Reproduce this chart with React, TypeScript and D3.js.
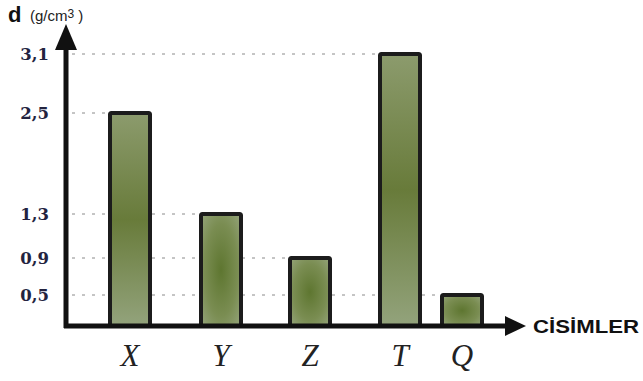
import React from "react";
import * as d3 from "d3";

const categories = ["X", "Y", "Z", "T", "Q"];
const values = [2.5, 1.3, 0.9, 3.1, 0.5];
const tickValues = [0.5, 0.9, 1.3, 2.5, 3.1];
const tickLabels = ["0,5", "0,9", "1,3", "2,5", "3,1"];

const W = 643;
const H = 381;
const x0 = 66;
const y0 = 326;

export default function App() {
  // schematic (non-uniform) axes, piecewise linear
  const y = d3.scaleLinear().domain([0, 0.5, 0.9, 1.3, 2.5, 3.1]).range([y0, 295, 258, 214, 113, 54]);
  const x = d3.scaleLinear().domain([0, 1, 2, 3, 4]).range([130, 221, 310, 400, 462]);
  const barW = 40;
  const inkTick = "#23233f";

  return (
    <svg width={W} height={H} style={{ position: "absolute", left: 0, top: 0, background: "#fff" }}>
      <defs>
        <radialGradient id="barGrad" cx="0.5" cy="0.5" r="0.75" fx="0.5" fy="0.5">
          <stop offset="0%" stopColor="#5e7630" />
          <stop offset="55%" stopColor="#7a8d52" />
          <stop offset="100%" stopColor="#9aa983" />
        </radialGradient>
        <linearGradient id="barGradTall" x1="0" y1="0" x2="0" y2="1">
          <stop offset="0%" stopColor="#8c9b6d" />
          <stop offset="50%" stopColor="#687b3a" />
          <stop offset="100%" stopColor="#93a37c" />
        </linearGradient>
      </defs>
      {/* grid lines */}
      {values.map((v, i) => (
        <line
          key={"g" + i}
          x1={x0 + 6}
          x2={x(i) - barW / 2}
          y1={y(v)}
          y2={y(v)}
          stroke="#8a8a8a"
          strokeWidth={1}
          strokeDasharray="3,7"
        />
      ))}
      {/* bars */}
      {values.map((v, i) => (
        <rect
          key={"b" + i}
          x={x(i) - barW / 2}
          y={y(v)}
          width={barW}
          height={y0 - y(v)}
          rx={1.5}
          fill={v >= 2 ? "url(#barGradTall)" : "url(#barGrad)"}
          stroke="#1c1c1c"
          strokeWidth={4}
        />
      ))}
      {/* y axis */}
      <line x1={x0} x2={x0} y1={y0 + 2} y2={48} stroke="#111" strokeWidth={5} />
      <path d={`M${x0 - 11},${50} L${x0},${24} L${x0 + 11},${50} Z`} fill="#111" />
      {/* x axis */}
      <line x1={x0 - 2} x2={508} y1={y0} y2={y0} stroke="#111" strokeWidth={5} />
      <path d={`M${505},${y0 - 10} L${526},${y0} L${505},${y0 + 10} Z`} fill="#111" />
      {/* tick labels */}
      {tickValues.map((t, i) => (
        <text
          key={"t" + i}
          x={49}
          y={y(t)}
          dy="0.36em"
          textAnchor="end"
          fontFamily="DejaVu Serif"
          fontWeight="bold"
          fontSize={16.5}
          fill={inkTick}
        >
          {tickLabels[i]}
        </text>
      ))}
      {/* category labels */}
      {categories.map((c, i) => (
        <text
          key={"c" + i}
          x={x(i)}
          y={366}
          textAnchor="middle"
          fontFamily="Liberation Serif"
          fontStyle="italic"
          fontSize={31}
          fill="#222"
        >
          {c}
        </text>
      ))}
      {/* axis titles */}
      <text x={8} y={22} fontFamily="Liberation Sans" fontWeight="bold" fontSize={22} fill="#111">
        d
      </text>
      <text x={30} y={21} fontFamily="Liberation Sans" fontSize={15} fill="#222">
        (g/cm<tspan fontSize={12} dy={-3}>3</tspan><tspan dy={3}> )</tspan>
      </text>
      <text
        x={533}
        y={333}
        fontFamily="Liberation Sans"
        fontWeight="bold"
        fontSize={19}
        fill="#111"
        textLength={106}
        lengthAdjust="spacingAndGlyphs"
      >
        CİSİMLER
      </text>
    </svg>
  );
}
